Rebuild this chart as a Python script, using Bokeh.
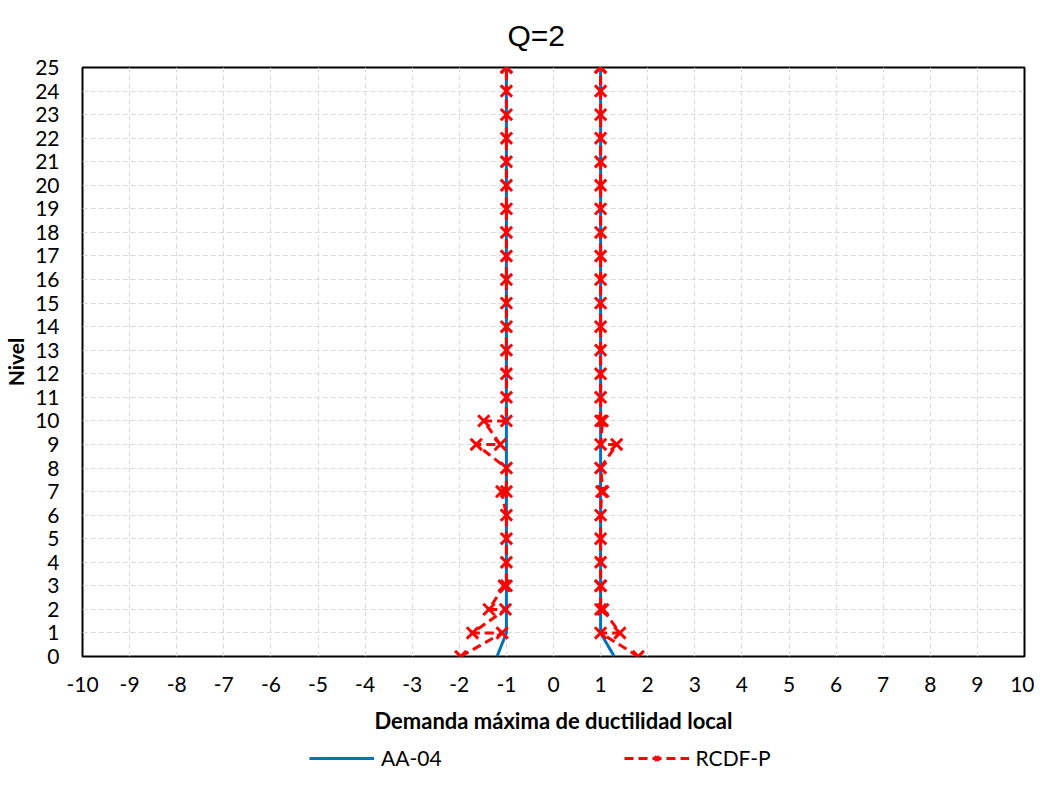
from bokeh.plotting import figure
from bokeh.layouts import column
from bokeh.models import Range1d, SingleIntervalTicker, Legend, LegendItem, PrintfTickFormatter
from bokeh.embed import file_html
from bokeh.resources import INLINE

# ---------------- data ----------------
title_text = "Q=2"
x_label = "Demanda máxima de ductilidad local"
y_label = "Nivel"

levels = list(range(0, 26))

# AA-04 (blue solid), negative and positive sides
aa_left = [-1.20] + [-1.0] * 25
aa_right = [1.29] + [1.0] * 25

# RCDF-P (red dashed, x markers): path points (two values at several levels)
rcdf_left_x = [-1.97, -1.09, -1.72, -1.02, -1.37, -1.05, -1.00, -1.00, -1.00, -1.00,
               -1.10, -1.00, -1.00, -1.64, -1.13, -1.48, -1.00,
               -1.00, -1.00, -1.00, -1.00, -1.00, -1.00, -1.00, -1.00,
               -1.00, -1.00, -1.00, -1.00, -1.00, -1.00, -1.00, -1.00]
rcdf_left_y = [0, 1, 1, 2, 2, 3, 3, 4, 5, 6,
               7, 7, 8, 9, 9, 10, 10,
               11, 12, 13, 14, 15, 16, 17, 18,
               19, 20, 21, 22, 23, 24, 25, 25]
rcdf_right_x = [1.80, 1.00, 1.41, 1.05, 1.00, 1.00, 1.00, 1.00, 1.00, 1.00,
                1.02, 1.05, 1.00, 1.34, 1.00, 1.04, 1.00,
                1.00, 1.00, 1.00, 1.00, 1.00, 1.00, 1.00, 1.00,
                1.00, 1.00, 1.00, 1.00, 1.00, 1.00, 1.00, 1.00]
rcdf_right_y = [0, 1, 1, 2, 2, 3, 3, 4, 5, 6,
                7, 7, 8, 9, 9, 10, 10,
                11, 12, 13, 14, 15, 16, 17, 18,
                19, 20, 21, 22, 23, 24, 25, 25]

series_names = ["AA-04", "RCDF-P"]
colors = ["#0070C0", "#FF0000"]

LINE_W = 3
DASH = "9 5"
MARK_SIZE = 16
MARK_W = 3

# ---------------- main figure ----------------
p = figure(width=1034, height=746, output_backend="svg", toolbar_location=None,
           x_range=Range1d(-10, 10), y_range=Range1d(0, 25),
           min_border_left=77, min_border_right=10, min_border_top=62,
           min_border_bottom=90)

p.title.text = title_text
p.title.align = "left"
p.title.offset = 425
p.title.text_font = "Liberation Sans"
p.title.text_font_size = "30px"
p.title.text_font_style = "normal"
p.title.text_color = "black"
p.title.standoff = 32

p.outline_line_color = "black"
p.outline_line_width = 2
p.outline_line_alpha = 1.0

for ax in (p.xaxis[0], p.yaxis[0]):
    ax.ticker = SingleIntervalTicker(interval=1)
    ax.formatter = PrintfTickFormatter(format="%d")
    ax.axis_line_color = None
    ax.major_tick_line_color = None
    ax.minor_tick_line_color = None
    ax.major_tick_out = 0
    ax.major_tick_in = 0
    ax.minor_tick_out = 0
    ax.minor_tick_in = 0
    ax.major_label_text_font = "Lato"
    ax.major_label_text_font_size = "21px"
    ax.major_label_text_color = "black"
    ax.axis_label_text_font = "Lato"
    ax.axis_label_text_font_size = "22px"
    ax.axis_label_text_font_style = "bold"
    ax.axis_label_text_color = "black"

p.yaxis.axis_label_text_font_size = "21px"
p.xaxis.axis_label = x_label
p.yaxis.axis_label = y_label
p.xaxis.major_label_standoff = 20
p.yaxis.major_label_standoff = 23
p.xaxis.axis_label_standoff = 12
p.yaxis.axis_label_standoff = 4

for g in (p.xgrid[0], p.ygrid[0]):
    g.ticker = SingleIntervalTicker(interval=1)
    g.grid_line_color = "#D9D9D9"
    g.grid_line_dash = "5 3"
    g.grid_line_width = 1

# AA-04
p.line(aa_left, levels, line_color=colors[0], line_width=LINE_W)
p.line(aa_right, levels, line_color=colors[0], line_width=LINE_W)

# RCDF-P
p.line(rcdf_left_x, rcdf_left_y, line_color=colors[1], line_width=LINE_W, line_dash=DASH)
p.line(rcdf_right_x, rcdf_right_y, line_color=colors[1], line_width=LINE_W, line_dash=DASH)
p.scatter(rcdf_left_x, rcdf_left_y, marker="x", size=MARK_SIZE, line_color=colors[1], line_width=MARK_W)
p.scatter(rcdf_right_x, rcdf_right_y, marker="x", size=MARK_SIZE, line_color=colors[1], line_width=MARK_W)

# ---------------- legend strip (same series, out of view) ----------------
q = figure(width=1034, height=24, output_backend="svg", toolbar_location=None,
           x_range=Range1d(100, 101), y_range=Range1d(100, 101), min_border=0)
q.xaxis.visible = False
q.yaxis.visible = False
q.xgrid.visible = False
q.ygrid.visible = False
q.outline_line_color = None

lg_a = q.line(aa_left, levels, line_color=colors[0], line_width=LINE_W)
lg_r = q.line(rcdf_left_x, rcdf_left_y, line_color=colors[1], line_width=LINE_W, line_dash=DASH)
lg_m = q.scatter(rcdf_left_x, rcdf_left_y, marker="x", size=MARK_SIZE, line_color=colors[1], line_width=MARK_W)

legend = Legend(items=[LegendItem(label=series_names[0], renderers=[lg_a]),
                       LegendItem(label=series_names[1], renderers=[lg_r, lg_m])],
                orientation="horizontal", location=(227, 0),
                label_text_font="Lato", label_text_font_size="21px",
                label_text_color="black",
                glyph_width=65, glyph_height=16, spacing=182, label_standoff=7,
                border_line_color=None, background_fill_alpha=0,
                margin=0, padding=0)
q.add_layout(legend, "center")

layout = column(p, q, spacing=0)
open("out.html", "w").write(file_html(layout, INLINE))
